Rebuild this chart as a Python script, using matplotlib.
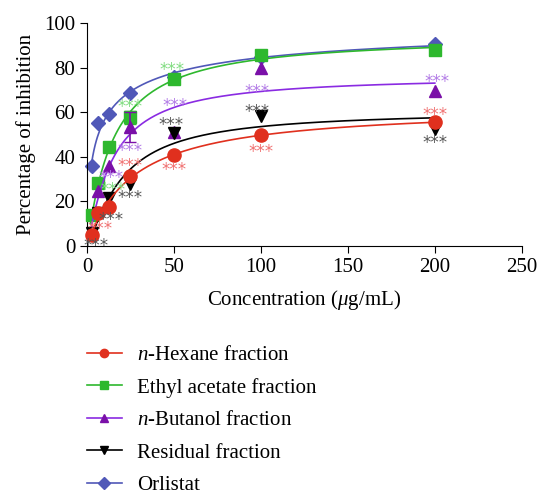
import numpy as np
import matplotlib
matplotlib.use('Agg')
import matplotlib.pyplot as plt

plt.rcParams['font.family'] = 'Liberation Serif'
plt.rcParams['mathtext.fontset'] = 'custom'
plt.rcParams['mathtext.rm'] = 'Liberation Serif'
plt.rcParams['mathtext.it'] = 'Liberation Serif:italic'

# concentrations (ug/mL)
conc = np.array([3.125, 6.25, 12.5, 25, 50, 100, 200])

# % inhibition
hexane = np.array([5.0, 15.0, 17.6, 31.4, 40.6, 50.0, 55.5])
ethyl = np.array([13.8, 28.3, 44.3, 57.7, 75.0, 85.6, 88.0])
butanol = np.array([6.4, 24.5, 36.0, 53.5, 51.0, 80.0, 69.6])
residual = np.array([6.0, 15.0, 21.6, 27.7, 50.5, 58.5, 52.7])
orlistat = np.array([35.7, 55.0, 59.0, 68.6, 76.0, 85.0, 90.5])

butanol_err = np.array([0, 0, 0, 6.7, 0, 0, 0])
ethyl_err = np.array([0, 0, 0, 3.0, 0, 0, 0])

labels = ['$n$-Hexane fraction', 'Ethyl acetate fraction', '$n$-Butanol fraction',
          'Residual fraction', 'Orlistat']

# significance marks (x, y) per series
stars_hex = [(7.6, 8.5), (24.5, 36.6), (50, 35.0), (100, 42.9), (200, 59.7)]
stars_eth = [(14.8, 26.0), (24.5, 63.4), (49, 80.0)]
stars_but = [(14, 31.3), (24.5, 43.6), (50.5, 63.7), (97.5, 70.0), (201, 74.5)]
stars_res = [(5.4, 0.8), (14, 12.7), (24.8, 22.3), (48.6, 55.2), (98, 61.0), (200, 47.0)]


def hill_fit(x, y):
    # simple grid search for y = vmax * x^h / (k^h + x^h)
    best = None
    for k in np.logspace(0, 2.7, 200):
        for h in np.linspace(0.5, 2.0, 61):
            f = x**h / (k**h + x**h)
            vmax = np.dot(y, f) / np.dot(f, f)
            sse = np.sum((y - vmax * f)**2)
            if best is None or sse < best[0]:
                best = (sse, vmax, k, h)
    return best[1:]


fig = plt.figure(figsize=(5.39, 4.91), dpi=100)
ax = fig.add_axes([0.1614, 0.499, 0.8066, 0.454])

series = [
    (hexane, None, '#e0301e', 'o', 9.5, '#f07070', stars_hex, 6),
    (ethyl, ethyl_err, '#2eb82e', 's', 8.5, '#80dc80', stars_eth, 3),
    (butanol, butanol_err, '#7a10a8', '^', 9, '#b27be6', stars_but, 4),
    (residual, None, '#000000', 'v', 9, '#555555', stars_res, 5),
    (orlistat, None, '#5058b8', 'D', 7, None, [], 2),
]

xs = np.linspace(2.0, 200, 300)
handles = []
for (y, err, col, mk, ms, scol, stars, z), lab in zip(series, labels):
    vmax, k, h = hill_fit(conc, y)
    line_col = '#8a2be2' if mk == '^' else col
    ax.plot(xs, vmax * xs**h / (k**h + xs**h), color=line_col, lw=1.2, zorder=z)
    ax.plot(conc, y, ls='none', marker=mk, ms=ms, color=col, zorder=z + 0.5, clip_on=False)
    if err is not None:
        m = err > 0
        ax.errorbar(conc[m], y[m], yerr=err[m], fmt='none', ecolor=col, elinewidth=1.2,
                    capsize=4, zorder=z + 0.5)
    for sx, sy in stars:
        ax.text(sx, sy, '***', color=scol, fontsize=12, family='DejaVu Sans',
                ha='center', va='center_baseline', zorder=10, clip_on=False)
    handles.append(plt.Line2D([], [], color=line_col, lw=1.2, marker=mk, ms=6,
                              markerfacecolor=col, markeredgecolor=col, label=lab))

ax.set_xlim(0, 250)
ax.set_ylim(0, 100)
ax.set_xticks(np.arange(0, 251, 50))
ax.set_yticks(np.arange(0, 101, 20))
ax.spines['top'].set_visible(False)
ax.spines['right'].set_visible(False)
ax.tick_params(direction='out', length=5, labelsize=15)
ax.set_xlabel('Concentration ($\\mu$g/mL)', fontsize=15, labelpad=8)
ax.set_ylabel('Percentage of inhibition', fontsize=15, labelpad=6)

fig.legend(handles=handles, loc='upper left', bbox_to_anchor=(0.126, 0.335),
           frameon=False, fontsize=15, handlelength=1.7, labelspacing=0.62,
           handletextpad=0.7)

fig.savefig('out.png', dpi=100)
